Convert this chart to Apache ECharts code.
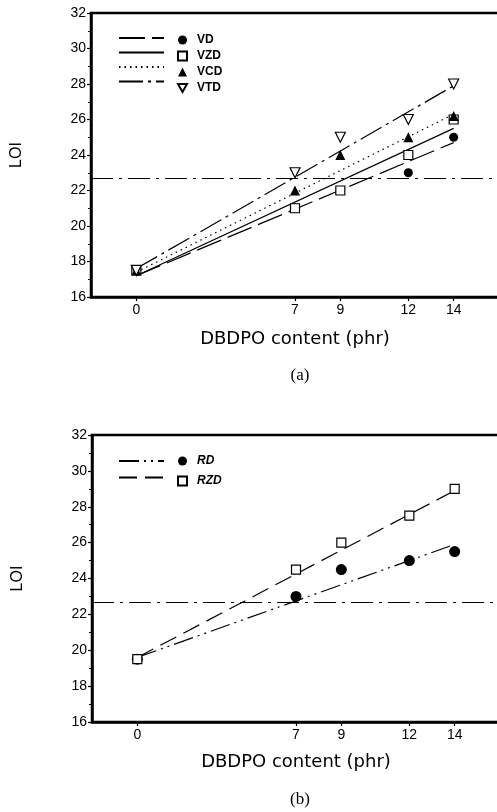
<!DOCTYPE html>
<html>
<head>
<meta charset="utf-8">
<script src="https://cdn.jsdelivr.net/npm/echarts@6/dist/echarts.min.js"></script>
<style>
    html, body { margin: 0; padding: 0; background: #fff; }
    #chart { width: 497px; height: 812px; }
</style>
</head>
<body>
<div id="chart"></div>
<script>
    // x 位置 (phr)
    const phr = [0, 7, 9, 12, 14];
    const xTicks = [0, 7, 9, 12, 14];
    // (a) LOI
    const vd = [17.5, 21, 22, 23, 25];
    const vzd = [17.5, 21, 22, 24, 26];
    const vcd = [17.5, 22, 24, 25, 26.2];
    const vtd = [17.5, 23, 25, 26, 28];
    // (b) LOI
    const rd = [19.5, 23, 24.5, 25, 25.5];
    const rzd = [19.5, 24.5, 26, 27.5, 29];
    // 拟合线端点
    const fitX = [0, 14];
    const vdFit = [17.2, 24.7];
    const vzdFit = [17.2, 25.5];
    const vcdFit = [17.4, 26.3];
    const vtdFit = [17.6, 27.9];
    const rdFit = [19.6, 25.9];
    const rzdFit = [19.6, 28.9];
    const refLOI = 22.7;

    const font = "'Liberation Sans', Arial, sans-serif";
    const downTri = 'path://M0,0L10,0L5,9Z';
    const pts = (xs, ys) => xs.map((x, i) => [x, ys[i]]);

    function fitLine(name, idx, ys, dash) {
        return {
            name: name,
            type: 'line',
            xAxisIndex: idx,
            yAxisIndex: idx,
            symbol: 'none',
            silent: true,
            z: 2,
            itemStyle: {color: '#000'},
            lineStyle: {color: '#000', width: 1.2, type: dash},
            data: pts(fitX, ys)
        };
    }

    function dots(name, idx, ys, symbol, size, filled) {
        return {
            name: name,
            type: 'scatter',
            xAxisIndex: idx,
            yAxisIndex: idx,
            symbol: symbol,
            symbolSize: size,
            z: 5,
            itemStyle: {
                color: filled ? '#000' : '#fff',
                opacity: 1,
                borderColor: '#000',
                borderWidth: filled ? 0 : 1.2
            },
            data: pts(phr, ys)
        };
    }

    function refLine() {
        return {
            silent: true,
            symbol: 'none',
            label: {show: false},
            lineStyle: {color: '#000', width: 1.2, type: [22, 6, 3, 6]},
            data: [{yAxis: refLOI}]
        };
    }

    let xAxis = [0, 1].map(i => ({
        type: 'value',
        gridIndex: i,
        min: -2,
        max: 16,
        name: 'DBDPO content (phr)',
        nameLocation: 'middle',
        nameGap: i === 0 ? 33 : 31,
        nameTextStyle: {fontFamily: "'DejaVu Sans', sans-serif", fontSize: 18, color: '#000'},
        axisLine: {onZero: false, lineStyle: {color: '#000', width: 2.5}},
        axisTick: {customValues: xTicks, length: 4, lineStyle: {color: '#000', width: 1.2}},
        axisLabel: {customValues: xTicks, color: '#000', fontFamily: font, fontSize: 14, margin: 6},
        splitLine: {show: false}
    }));

    let yAxis = [0, 1].map(i => ({
        type: 'value',
        gridIndex: i,
        min: 16,
        max: 32,
        interval: 2,
        name: 'LOI',
        nameLocation: 'middle',
        nameRotate: 90,
        nameGap: 66,
        nameTextStyle: {fontFamily: font, fontSize: 16, color: '#000'},
        axisLine: {onZero: false, lineStyle: {color: '#000', width: 2.5}},
        axisTick: {length: 4, lineStyle: {color: '#000', width: 1.2}},
        minorTick: {show: true, splitNumber: 2, length: 3, lineStyle: {color: '#000', width: 1}},
        axisLabel: {color: '#000', fontFamily: font, fontSize: 14, margin: 5},
        splitLine: {show: false}
    }));

    let series = [
        fitLine('VD fit', 0, vdFit, [26, 7]),
        fitLine('VZD fit', 0, vzdFit, 'solid'),
        fitLine('VCD fit', 0, vcdFit, [1.5, 4]),
        fitLine('VTD fit', 0, vtdFit, [24, 5, 3, 5]),
        dots('VD', 0, vd, 'circle', 9, true),
        dots('VZD', 0, vzd, 'rect', 9, false),
        dots('VCD', 0, vcd, 'triangle', 10, true),
        dots('VTD', 0, vtd, downTri, 10, false),
        fitLine('RD fit', 1, rdFit, [20, 5, 2, 5, 2, 5]),
        fitLine('RZD fit', 1, rzdFit, [18, 8]),
        dots('RD', 1, rd, 'circle', 11, true),
        dots('RZD', 1, rzd, 'rect', 9, false)
    ];
    series[0].markLine = refLine();
    series[8].markLine = refLine();

    let lineLegend = (top, names, gap) => ({
        left: 118,
        top: top,
        padding: 0,
        orient: 'vertical',
        itemWidth: 45,
        itemHeight: 10,
        itemGap: gap,
        selectedMode: false,
        itemStyle: {opacity: 0},
        formatter: () => '',
        textStyle: {lineHeight: 10, padding: 0},
        data: names
    });
    let markLegend = (top, names, gap, italic) => ({
        left: 177,
        top: top,
        padding: 0,
        orient: 'vertical',
        itemWidth: 9,
        itemHeight: 9,
        itemGap: gap,
        selectedMode: false,
        textStyle: {color: '#000', fontFamily: font, fontSize: 12, fontWeight: 'bold', lineHeight: 12,
            fontStyle: italic ? 'italic' : 'normal', padding: [0, 0, 0, 5]},
        data: names
    });

    let myChart = echarts.init(document.getElementById('chart'));
    let option = {
        backgroundColor: '#fff',
        animation: false,
        title: [{
            text: '(a)', left: 295, top: 362, textAlign: 'center',
            textStyle: {fontFamily: "'Liberation Serif', serif", fontSize: 17, fontWeight: 'normal', color: '#000'}
        }, {
            text: '(b)', left: 295, top: 786, textAlign: 'center',
            textStyle: {fontFamily: "'Liberation Serif', serif", fontSize: 17, fontWeight: 'normal', color: '#000'}
        }],
        legend: [
            lineLegend(34, ['VD fit', 'VZD fit', 'VCD fit', 'VTD fit'], 6.5),
            markLegend(34, ['VD', 'VZD', 'VCD', 'VTD'], 4, false),
            lineLegend(457, ['RD fit', 'RZD fit'], 8.5),
            markLegend(455, ['RD', 'RZD'], 8, true)
        ],
        grid: [
            {left: 91, top: 13, width: 408, height: 284, outerBoundsMode: 'none',
                show: true, borderColor: '#000', borderWidth: 2.5},
            {left: 92, top: 435, width: 408, height: 287, outerBoundsMode: 'none',
                show: true, borderColor: '#000', borderWidth: 2.5}
        ],
        xAxis: xAxis,
        yAxis: yAxis,
        series: series
    };
    myChart.setOption(option);
</script>
</body>
</html>
